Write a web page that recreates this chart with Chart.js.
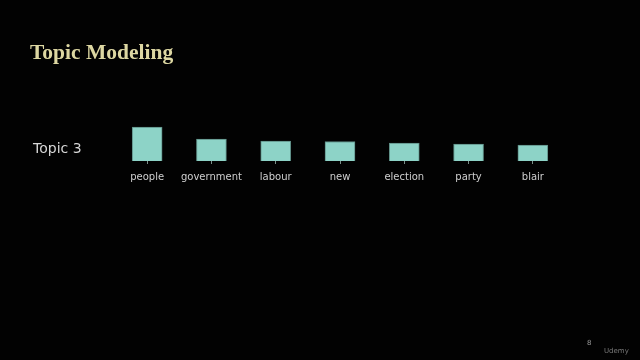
<!DOCTYPE html>
<html>
<head>
<meta charset="utf-8">
<script src="https://cdn.jsdelivr.net/npm/chart.js@4/dist/chart.umd.min.js"></script>
<style>
  html, body { margin: 0; padding: 0; background: #020202; }
  #slide { position: relative; width: 640px; height: 360px; background: #020202; overflow: hidden; }
  #chart { position: absolute; left: 0; top: 0; }
  .title { position: absolute; left: 30px; top: 40px; font: bold 21.5px "Liberation Serif", serif; color: #ddd7a2; white-space: nowrap; }
  .topic { position: absolute; left: 33px; top: 140px; font: 14px "DejaVu Sans", sans-serif; color: #d6d6d6; white-space: nowrap; }
  .page { position: absolute; left: 587px; top: 339px; font: 7px "DejaVu Sans", sans-serif; color: #9a9a9a; }
  .brand { position: absolute; left: 604px; top: 347px; font: 7px "DejaVu Sans", sans-serif; color: #7a7a7a; }
</style>
</head>
<body>
<div id="slide">
  <canvas id="chart" width="640" height="360"></canvas>
  <div class="title">Topic Modeling</div>
  <div class="topic">Topic 3</div>
  <div class="page">8</div>
  <div class="brand">Udemy</div>
</div>
<script>
// Top words of topic 3 and their weights
const words = ['people', 'government', 'labour', 'new', 'election', 'party', 'blair'];
const weights = [34, 22, 20, 19.5, 18, 17, 16];

new Chart(document.getElementById('chart'), {
  type: 'bar',
  data: {
    labels: words,
    datasets: [{
      data: weights,
      backgroundColor: '#8dd3c7',
      borderColor: '#5e8d85',
      borderWidth: 1,
      barThickness: 30
    }]
  },
  options: {
    responsive: false,
    animation: false,
    events: [],
    layout: { padding: { left: 115, right: 75, top: 121, bottom: 169 } },
    plugins: { legend: { display: false }, tooltip: { enabled: false } },
    scales: {
      x: {
        offset: true,
        border: { display: false },
        grid: { offset: false, drawOnChartArea: false, drawTicks: true, tickLength: 3, color: '#7c8f8a' },
        ticks: {
          color: '#cfcfcf', padding: 7, autoSkip: false, maxRotation: 0, minRotation: 0,
          font: { family: 'DejaVu Sans', size: 10 }
        },
        afterFit: (s) => { s.height = 30; }
      },
      y: { display: false, min: 0, max: 40 }
    }
  }
});
</script>
</body>
</html>
